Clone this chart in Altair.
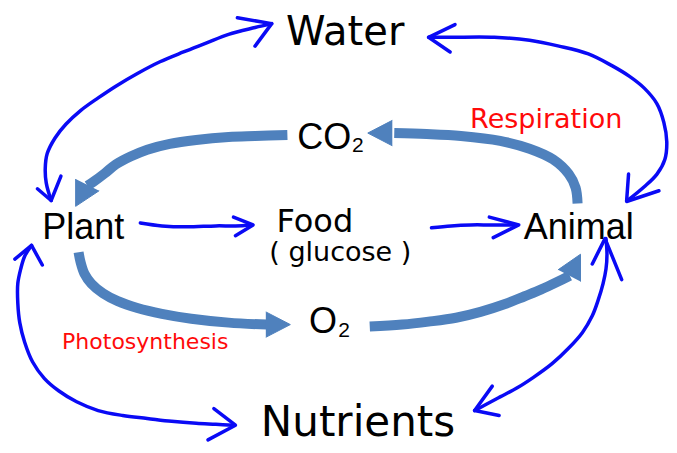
import altair as alt
import pandas as pd

# ---------------- colours ----------------
STEEL = "#4F81BD"
BLUE = "#0A0AF5"
RED = "#FF0A0A"

# ---------------- thick (steel-blue) cycle arrows ----------------
# Animal -> CO2 (respiration)
resp_x = [589, 587, 580, 564, 540, 510, 470, 435, 402]
resp_y = [208, 192, 178, 163, 152, 144, 139, 137, 136]
resp_head_x = [400, 375, 400]
resp_head_y = [123, 136, 149]

# CO2 -> Plant
co2_x = [293, 260, 233, 200, 173, 150, 133, 118, 107, 95, 89]
co2_y = [138, 139, 140, 143, 147, 153, 160, 168, 177, 186, 190]
co2_head_x = [77, 77, 101]
co2_head_y = [183, 211, 195]

# Plant -> O2 (photosynthesis)
photo_x = [80, 82, 86, 93, 105, 120, 140, 165, 195, 233, 272]
photo_y = [258, 268, 280, 290, 300, 308, 315, 321, 326, 330, 332]
photo_head_x = [271, 296, 271]
photo_head_y = [319, 332, 345]

# O2 -> Animal
o2_x = [377, 410, 437, 465, 490, 515, 535, 552, 567, 581]
o2_y = [334, 332, 329, 325, 319, 311, 303, 296, 289, 282]
o2_head_x = [569, 592, 592]
o2_head_y = [276, 260, 288]

# ---------------- hand-drawn blue arrows ----------------
water_plant_x = [277, 260, 233, 210, 187, 163, 140, 118, 100, 82, 67, 56, 48, 46, 47, 52]
water_plant_y = [24, 28, 35, 44, 53, 63, 75, 88, 100, 113, 127, 141, 157, 172, 187, 205]
water_animal_x = [437, 460, 504, 540, 570, 600, 624, 642, 657, 670, 677, 680, 678, 670, 657, 640]
water_animal_y = [38, 38, 38, 41, 47, 55, 67, 78, 90, 106, 125, 145, 163, 178, 191, 205]
plant_food_x = [143, 165, 190, 220, 240, 256]
plant_food_y = [228, 231, 232, 231, 231, 230]
food_animal_x = [440, 460, 480, 500, 527]
food_animal_y = [233, 231, 230, 230, 230]
plant_nut_x = [32, 25, 21, 18, 18, 20, 25, 33, 45, 60, 78, 100, 125, 150, 175, 200, 220, 238]
plant_nut_y = [251, 262, 275, 290, 310, 330, 350, 370, 387, 400, 411, 420, 425, 428, 431, 433, 434, 435]
animal_nut_x = [618, 619, 618, 615, 610, 604, 594, 580, 563, 544, 527, 510, 495, 484]
animal_nut_y = [244, 260, 275, 290, 307, 323, 340, 356, 372, 386, 397, 406, 414, 420]

# chevron heads (wing, tip, wing)
heads = {
    "water_top_left": ([242, 277, 260], [18, 24, 47]),
    "plant_top": ([38, 52, 62], [193, 205, 180]),
    "water_top_right": ([464, 437, 459], [25, 38, 53]),
    "animal_top": ([641, 639, 672], [178, 206, 195]),
    "food_in": ([238, 258, 240], [222, 230, 241]),
    "animal_in": ([499, 529, 503], [222, 230, 243]),
    "plant_bottom": ([15, 32, 43], [265, 251, 271]),
    "nut_left": ([218, 240, 212], [418, 435, 450]),
    "animal_bottom": ([604, 617, 634], [270, 244, 286]),
    "nut_right": ([502, 484, 509], [395, 420, 425]),
}

# ---------------- labels ----------------
sans_labels = ["CO", "2", "Plant", "Animal", "O", "2"]
sans_x = [303, 359, 43, 534, 315, 345]
sans_y = [152, 155, 244, 244, 341, 345]
sans_size = [36, 21, 36, 36, 36, 21]

hand_labels = ["Water", "Food", "( glucose )", "Nutrients", "Respiration", "Photosynthesis"]
hand_x = [352, 321, 347, 365, 557, 148]
hand_y = [46, 237, 267, 446, 131, 357]
hand_size = [40, 32, 27, 42, 27, 22]
hand_color = ["black", "black", "black", "black", RED, RED]


def paths(d):
    rows = []
    for name, (xs, ys) in d.items():
        for i, (a, b) in enumerate(zip(xs, ys)):
            rows.append({"id": name, "o": i, "x": a, "y": b})
    return pd.DataFrame(rows)


thick = paths({"resp": (resp_x, resp_y), "co2": (co2_x, co2_y),
               "photo": (photo_x, photo_y), "o2": (o2_x, o2_y)})
thick_heads = paths({"resp": (resp_head_x, resp_head_y), "co2": (co2_head_x, co2_head_y),
                     "photo": (photo_head_x, photo_head_y), "o2": (o2_head_x, o2_head_y)})
thin = paths({"wp": (water_plant_x, water_plant_y), "wa": (water_animal_x, water_animal_y),
              "pf": (plant_food_x, plant_food_y), "fa": (food_animal_x, food_animal_y),
              "pn": (plant_nut_x, plant_nut_y), "an": (animal_nut_x, animal_nut_y)})
thin_heads = paths(heads)

sans_df = pd.DataFrame({"t": sans_labels, "x": sans_x, "y": sans_y, "s": sans_size})
hand_df = pd.DataFrame({"t": hand_labels, "x": hand_x, "y": hand_y, "s": hand_size, "c": hand_color})

X = alt.X("x:Q", scale=alt.Scale(domain=[8, 669], nice=False, zero=False), axis=None)
Y = alt.Y("y:Q", scale=alt.Scale(domain=[8, 445], nice=False, zero=False, reverse=True), axis=None)

thick_layer = alt.Chart(thick).mark_line(
    color=STEEL, strokeWidth=10, strokeCap="butt", interpolate="catmull-rom"
).encode(x=X, y=Y, detail="id:N", order="o:Q")

thick_head_layer = alt.Chart(thick_heads).mark_line(
    fill=STEEL, stroke=STEEL, strokeWidth=1, filled=True, strokeJoin="miter"
).encode(x=X, y=Y, detail="id:N", order="o:Q")

thin_layer = alt.Chart(thin).mark_line(
    color=BLUE, strokeWidth=3.5, strokeCap="round", strokeJoin="round", interpolate="catmull-rom"
).encode(x=X, y=Y, detail="id:N", order="o:Q")

thin_head_layer = alt.Chart(thin_heads).mark_line(
    color=BLUE, strokeWidth=3.5, strokeCap="round", strokeJoin="round"
).encode(x=X, y=Y, detail="id:N", order="o:Q")

sans_layer = alt.Chart(sans_df).mark_text(
    font="Liberation Sans", align="left", baseline="alphabetic", color="black"
).encode(x=X, y=Y, text="t:N", size=alt.Size("s:Q", scale=None))

hand_layer = alt.Chart(hand_df).mark_text(
    font="DejaVu Sans", align="center", baseline="alphabetic"
).encode(x=X, y=Y, text="t:N", size=alt.Size("s:Q", scale=None),
         color=alt.Color("c:N", scale=None))

chart = alt.layer(
    thick_layer, thick_head_layer, thin_layer, thin_head_layer, sans_layer, hand_layer
).properties(
    width=661, height=437, padding=0,
    autosize=alt.AutoSizeParams(type="fit", contains="padding"),
    background="white",
).configure_view(stroke=None)

chart.save("out.html", embed_options={"renderer": "svg", "actions": False})
